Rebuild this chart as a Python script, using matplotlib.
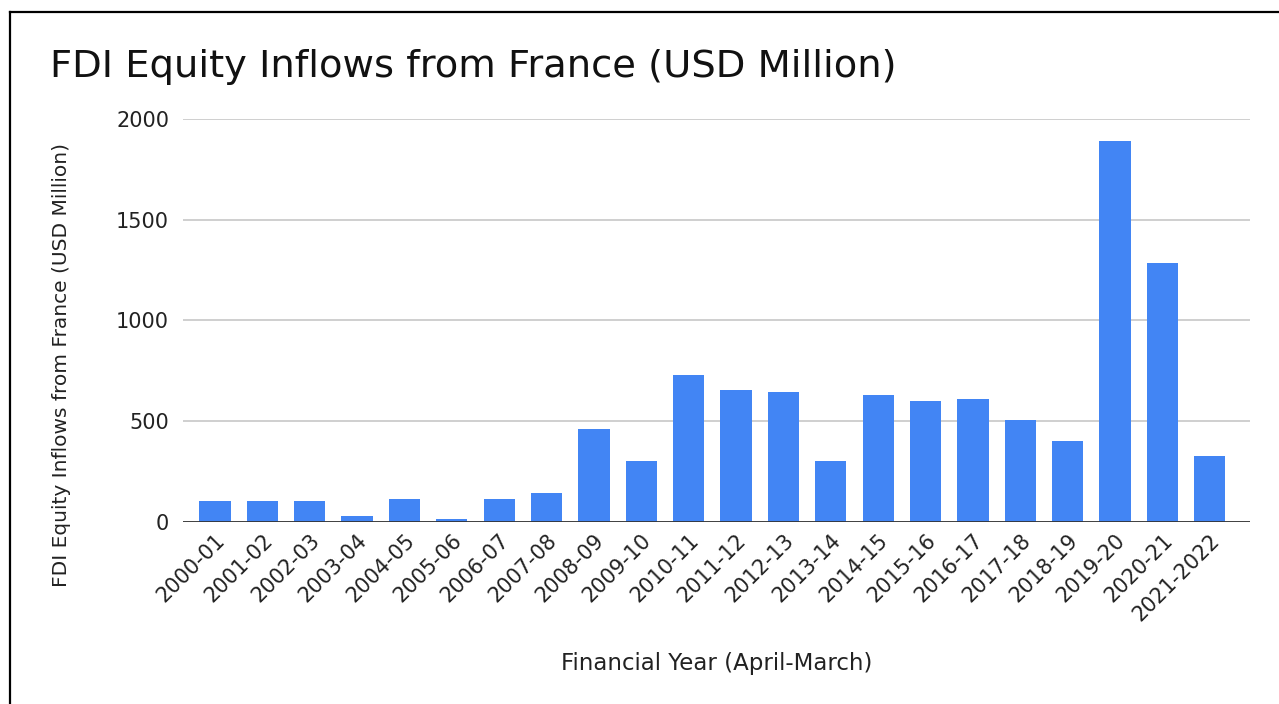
import matplotlib.pyplot as plt
from matplotlib.lines import Line2D

plt.rcParams['font.family'] = ['DejaVu Sans']

years = ["2000-01", "2001-02", "2002-03", "2003-04", "2004-05", "2005-06",
         "2006-07", "2007-08", "2008-09", "2009-10", "2010-11", "2011-12",
         "2012-13", "2013-14", "2014-15", "2015-16", "2016-17", "2017-18",
         "2018-19", "2019-20", "2020-21", "2021-2022"]
inflows = [105, 105, 105, 32, 116, 13, 116, 142, 460, 301, 731, 657,
           645, 301, 629, 599, 609, 506, 403, 1893, 1286, 329]

fig = plt.figure(figsize=(12.79, 7.04), dpi=100)
ax = fig.add_axes([0.143, 0.2585, 0.834, 0.5725])

x = range(len(years))
ax.bar(x, inflows, width=0.66, color='#4285F4', zorder=3)

ax.set_xlim(-0.675, len(years) - 1 + 0.84)
ax.set_ylim(0, 2000)
ax.set_yticks([0, 500, 1000, 1500, 2000])
ax.grid(axis='y', color='#cccccc', linewidth=1.3, zorder=0)
ax.axhline(0, color='#333333', linewidth=2, zorder=4)

for s in ax.spines.values():
    s.set_visible(False)
ax.tick_params(axis='both', length=0, labelsize=15, colors='#222222')
ax.tick_params(axis='y', pad=10)
ax.tick_params(axis='x', pad=6)
ax.set_xticks(list(x))
ax.set_xticklabels(years, rotation=45, ha='right', rotation_mode='anchor')

ax.set_ylabel("FDI Equity Inflows from France (USD Million)", fontsize=14.5, color='#222222')
ax.yaxis.set_label_coords(-0.105, 0.39)
ax.set_xlabel("Financial Year (April-March)", fontsize=16.5, color='#222222')
ax.xaxis.set_label_coords(0.5, -0.322)

fig.text(50 / 1279, 1 - 67 / 704, "FDI Equity Inflows from France (USD Million)",
         fontsize=27.7, ha='left', va='center', color='#111111')

# frame of the screenshot (top and left edges only)
fig.add_artist(Line2D([10 / 1279, 1], [1 - 12 / 704, 1 - 12 / 704], color='black', linewidth=1.6, transform=fig.transFigure))
fig.add_artist(Line2D([10 / 1279, 10 / 1279], [0, 1 - 12 / 704], color='black', linewidth=1.6, transform=fig.transFigure))

fig.savefig("out.png", dpi=100)
